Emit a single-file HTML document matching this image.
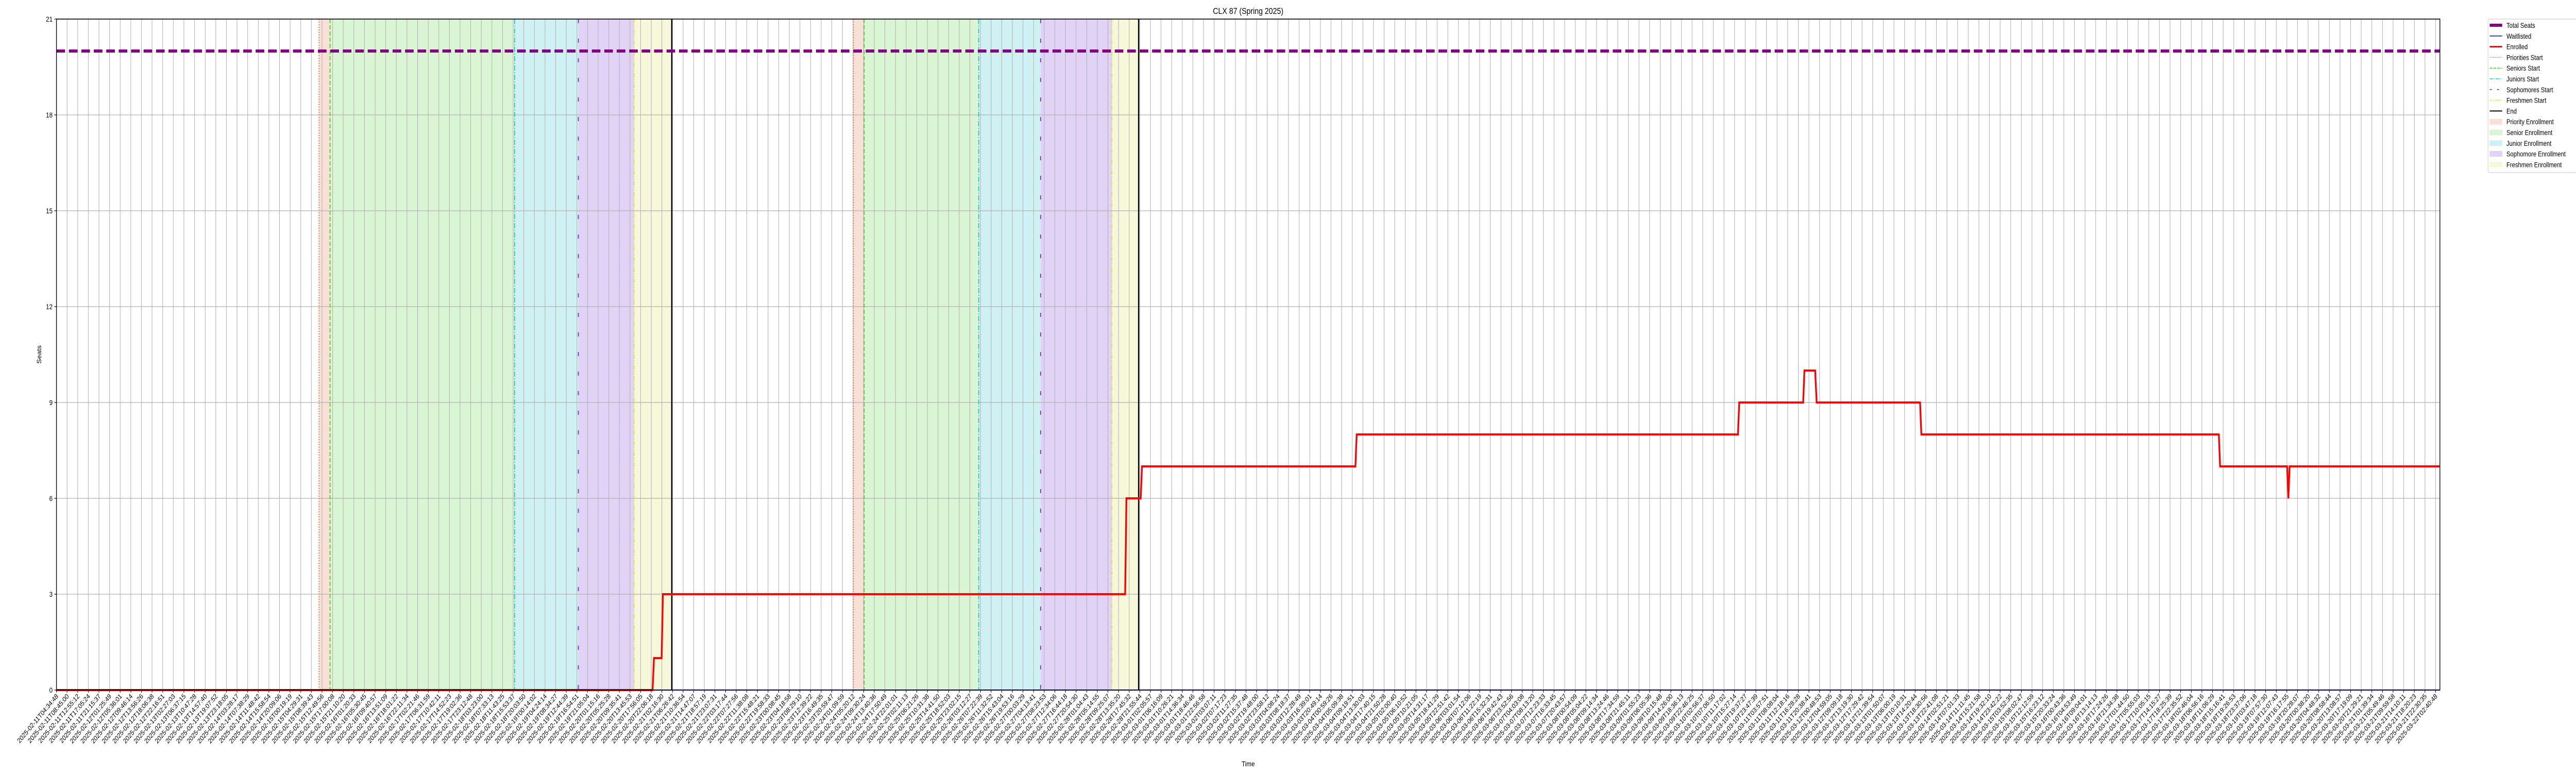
<!DOCTYPE html>
<html><head><meta charset="utf-8"><style>
html,body{margin:0;padding:0;background:#fff;width:100%;height:100%;overflow:hidden;}
svg{display:block;position:absolute;left:0;top:0;width:100vw;height:100vh;font-family:"Liberation Sans","DejaVu Sans",sans-serif;}
</style></head><body>
<svg id="chart" viewBox="0 0 6000 1500" preserveAspectRatio="none" xmlns="http://www.w3.org/2000/svg">
<rect width="6000" height="1500" fill="#fff"/>
<g id="fills"></g><g id="grid"></g><g id="phases"></g><g id="series"></g><g id="axes"></g><g id="legend"></g>
</svg>
<script>
// ---- data (hours since 2025-02-11T04:34:48) ----
const enrolledHours = [0,234.05,234.6,237.6,238.1,419.6,420.1,425.7,426.2,510.0,510.5,660.2,660.7,685.8,686.3,690.5,691.1,731.7,732.2,849.0,849.5,875.8,876.3,876.8,935.8];
const enrolledValues = [0,0,1,1,3,3,6,6,7,7,8,8,9,9,10,10,9,9,8,8,7,7,6,7,7];
const waitlistHours = [0,935.8];
const waitlistValues = [0,0];
const totalSeats = 20;
const prioritiesStart = [103.1,312.9];
const seniorsStart = [107.4,317.1];
const juniorsStart = [179.9,362.1];
const sophomoresStart = [204.9,386.4];
const freshmenStart = [226.8,414.4];
const endTimes = [241.6,424.9];
const yTicks = [0,3,6,9,12,15,18,21];
const xTickCount = 225;
const xTickLastHour = 934.1;
const startTime = "2025-02-11T04:34:48";

const NS="http://www.w3.org/2000/svg";
const L=131.5,R=5683,T=37,B=1339,xMax=935.8,yMax=21;
const X=h=>L+(h/xMax)*(R-L);
const Y=v=>B-(v/yMax)*(B-T);
function mk(tag,attrs,parent){const e=document.createElementNS(NS,tag);for(const k in attrs)e.setAttribute(k,attrs[k]);parent.appendChild(e);return e;}
const gF=document.getElementById('fills'),gG=document.getElementById('grid'),gP=document.getElementById('phases'),gS=document.getElementById('series'),gA=document.getElementById('axes'),gL=document.getElementById('legend');

const fillCols=['#f9e0d6','#daf5d3','#cff1f3','#e1d3f5','#f7f8d9'];
const fillNames=['priority-enrollment-band','senior-enrollment-band','junior-enrollment-band','sophomore-enrollment-band','freshmen-enrollment-band'];
for(let i=0;i<endTimes.length;i++){
  const bounds=[prioritiesStart[i],seniorsStart[i],juniorsStart[i],sophomoresStart[i],freshmenStart[i],endTimes[i]];
  for(let j=0;j<5;j++){
    const r=mk('rect',{x:X(bounds[j]),y:T,width:X(bounds[j+1])-X(bounds[j]),height:B-T,fill:fillCols[j]},gF);
    
    
  }
}
const t0=new Date(startTime+"Z").getTime();
const pad=n=>String(n).padStart(2,'0');
for(let i=0;i<xTickCount;i++){
  const h=xTickLastHour*i/(xTickCount-1);
  const x=X(h);
  const gl=mk('line',{x1:x,x2:x,y1:T,y2:B,stroke:'#b0b0b0','stroke-width':1.2},gG);
  
  
  mk('line',{x1:x,x2:x,y1:B,y2:B+5,stroke:'#000','stroke-width':1.2},gA);
  const d=new Date(t0+h*3600000);
  const lab=d.getUTCFullYear()+'-'+pad(d.getUTCMonth()+1)+'-'+pad(d.getUTCDate())+'T'+pad(d.getUTCHours())+':'+pad(d.getUTCMinutes())+':'+pad(d.getUTCSeconds());
  const t=mk('text',{x:0,y:0,'font-size':13.5,'text-anchor':'end',transform:`translate(${x+5},${B+13}) rotate(-45)`,fill:'#000'},gA);
  t.textContent=lab;
  
  
}
yTicks.forEach(v=>{
  const y=Y(v);
  const gl=mk('line',{x1:L,x2:R,y1:y,y2:y,stroke:'#b0b0b0','stroke-width':1.2},gG);
  
  
  mk('line',{x1:L-5,x2:L,y1:y,y2:y,stroke:'#000','stroke-width':1.2},gA);
  const t=mk('text',{x:L-9,y:y+5,'font-size':14,'text-anchor':'end'},gA);
  t.textContent=v;
  
  
});
const phaseDefs=[[prioritiesStart,'#e8703a','2,3','priorities-start-line'],[seniorsStart,'#44cc22','8,4','seniors-start-line'],[juniorsStart,'#11c8d0','10,3,2,3','juniors-start-line'],[sophomoresStart,'#6a2cd8','8,30','sophomores-start-line'],[freshmenStart,'#e0e030','8,3,2,3,2,3','freshmen-start-line']];
phaseDefs.forEach(([arr,c,da,nm])=>arr.forEach(h=>{
  const l=mk('line',{x1:X(h),x2:X(h),y1:T,y2:B,stroke:c,'stroke-width':2,'stroke-dasharray':da},gP);
  
  
}));
endTimes.forEach(h=>{
  const l=mk('line',{x1:X(h),x2:X(h),y1:T,y2:B,stroke:'#000','stroke-width':3},gP);
  
  
});
const ts=mk('line',{x1:L,x2:R,y1:Y(totalSeats),y2:Y(totalSeats),stroke:'#800080','stroke-width':6,'stroke-dasharray':'20,9'},gS);


const wl=mk('polyline',{points:waitlistHours.map((h,i)=>X(h)+','+Y(waitlistValues[i])).join(' '),fill:'none',stroke:'#0000ff','stroke-width':2},gS);


const en=mk('polyline',{points:enrolledHours.map((h,i)=>X(h)+','+Y(enrolledValues[i])).join(' '),fill:'none',stroke:'#ff0000','stroke-width':4,'stroke-linejoin':'miter'},gS);


const fr=mk('rect',{x:L,y:T,width:R-L,height:B-T,fill:'none',stroke:'#000','stroke-width':1.6},gA);


const title=mk('text',{x:(L+R)/2,y:27,'font-size':17,'text-anchor':'middle'},gA);
title.textContent='CLX 87 (Spring 2025)';


const xl=mk('text',{x:(L+R)/2,y:1487,'font-size':14,'text-anchor':'middle'},gA);
xl.textContent='Time';


const yl=mk('text',{x:0,y:0,'font-size':14,'text-anchor':'middle',transform:`translate(96,${(T+B)/2}) rotate(-90)`},gA);
yl.textContent='Seats';


const lb=mk('rect',{x:5795,y:37,width:220,height:298,rx:3,fill:'#fff',stroke:'#d0d0d0','stroke-width':1.2},gL);


const legItems=[
 ['Total Seats','line','#800080',6,''],['Waitlisted','line','#0000ff',1.5,''],['Enrolled','line','#ff0000',3,''],
 ['Priorities Start','line','#e8703a',1.5,'2,2'],['Seniors Start','line','#44cc22',1.5,'6,3'],['Juniors Start','line','#11c8d0',1.5,'8,2,2,2'],
 ['Sophomores Start','line','#6a2cd8',1.5,'5,12'],['Freshmen Start','line','#e0e030',1.5,'5,2,2,2,2,2'],['End','line','#000',2,''],
 ['Priority Enrollment','patch','#f9e0d6'],['Senior Enrollment','patch','#daf5d3'],['Junior Enrollment','patch','#cff1f3'],
 ['Sophomore Enrollment','patch','#e1d3f5'],['Freshmen Enrollment','patch','#f7f8d9']];
legItems.forEach((it,i)=>{
  const y=49+i*20.8;
  const g=mk('g',{},gL);
  
  
  if(it[1]==='line') mk('line',{x1:5799,x2:5828,y1:y,y2:y,stroke:it[2],'stroke-width':it[3],'stroke-dasharray':it[4]},g);
  else mk('rect',{x:5799,y:y-5,width:29,height:10,fill:it[2],stroke:it[2]},g);
  const t=mk('text',{x:5838,y:y+5,'font-size':13.5},g);
  t.textContent=it[0];
});
</script>
</body></html>
